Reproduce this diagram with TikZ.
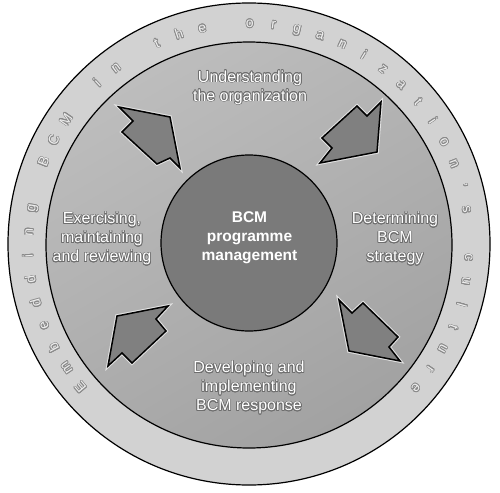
\documentclass[tikz,border=0pt]{standalone}
\usepackage{fontspec}
\setmainfont{Liberation Sans}
\usepackage{contour}
\contourlength{0.7pt}
\definecolor{ringc}{HTML}{D2D2D2}
\definecolor{midA}{HTML}{BDBDBD}
\definecolor{midB}{HTML}{A2A2A2}
\definecolor{innerc}{HTML}{7A7A7A}
\definecolor{arrowc}{HTML}{808080}
\definecolor{outl}{HTML}{6E6E6E}
\definecolor{ringtxt}{HTML}{EEEEEE}
\definecolor{ringoutl}{HTML}{8A8A8A}
\definecolor{halo}{HTML}{E2E2E2}
\begin{document}
\begin{tikzpicture}[x=1pt,y=-1pt,
  disc/.style={circle, inner sep=0pt, outer sep=0pt, draw=black, line width=1.2pt},
  blockarrow/.style={fill=arrowc, draw=black, line width=1.5pt, line join=miter},
  arrowhalo/.style={draw=halo, line width=3.6pt, line join=miter},
  label/.style={align=center, text=white, font=\fontsize{16}{19}\selectfont},
  core/.style={align=center, text=white, font=\fontsize{15.5}{19}\selectfont\bfseries},
  ringletter/.style={inner sep=0pt, text height=10pt, text depth=3pt, font=\fontsize{14}{14}\selectfont}
]
\useasboundingbox (0,0) rectangle (500,492);
% discs
\node[disc, minimum size=482pt, fill=ringc] (outer) at (249,244) {};
\node[disc, minimum size=406pt, top color=midA, bottom color=midB, shading angle=30] (middle) at (249,245) {};
\node[disc, minimum size=176pt, fill=innerc] (core) at (249,243) {};
% arrows
\foreach \p in {
  {(119,107) -- (170,117) -- (180,168) -- (170,158) -- (157,164) -- (122,132) -- (133,121) -- cycle},
  {(381,102) -- (377,152) -- (320,163) -- (332,148) -- (322,138) -- (357,106) -- (367,116) -- cycle},
  {(339,300) -- (352,313) -- (363,303) -- (398,337) -- (389,347) -- (400,361) -- (349,351) -- cycle},
  {(168,306) -- (156,319) -- (166,331) -- (132,363) -- (122,353) -- (108,366) -- (117,316) -- cycle}}{
  \draw[arrowhalo] \p;
  \draw[blockarrow] \p;
}
% labels
\node[core] (bcm) at (249.5,238) {BCM\\programme\\management};
\node[label] (und) at (250,88) {\contour{outl}{Understanding}\\\contour{outl}{the organization}};
\node[label] (det) at (395,239) {\contour{outl}{Determining}\\\contour{outl}{BCM}\\\contour{outl}{strategy}};
\node[label] (exe) at (102,239) {\contour{outl}{Exercising,}\\\contour{outl}{maintaining}\\\contour{outl}{and reviewing}};
\node[label] (dev) at (249,388) {\contour{outl}{Developing and}\\\contour{outl}{implementing}\\\contour{outl}{BCM response}};
% ring text
\foreach \ch [count=\i from 0] in {E,m,b,e,d,d,i,n,g,{},B,C,M,{},i,n,{},t,h,e,{},o,r,g,a,n,i,z,a,t,i,o,n,{'},s,{},c,u,l,t,u,r,e}{
  \pgfmathsetmacro\ang{220.4-\i*6.22}
  \node[ringletter, rotate=\ang-90] (rl\i) at ({249+220*cos(\ang)},{244-220*sin(\ang)}) {\contour{ringoutl}{\textcolor{ringtxt}{\ch}}};
}
\end{tikzpicture}
\end{document}
